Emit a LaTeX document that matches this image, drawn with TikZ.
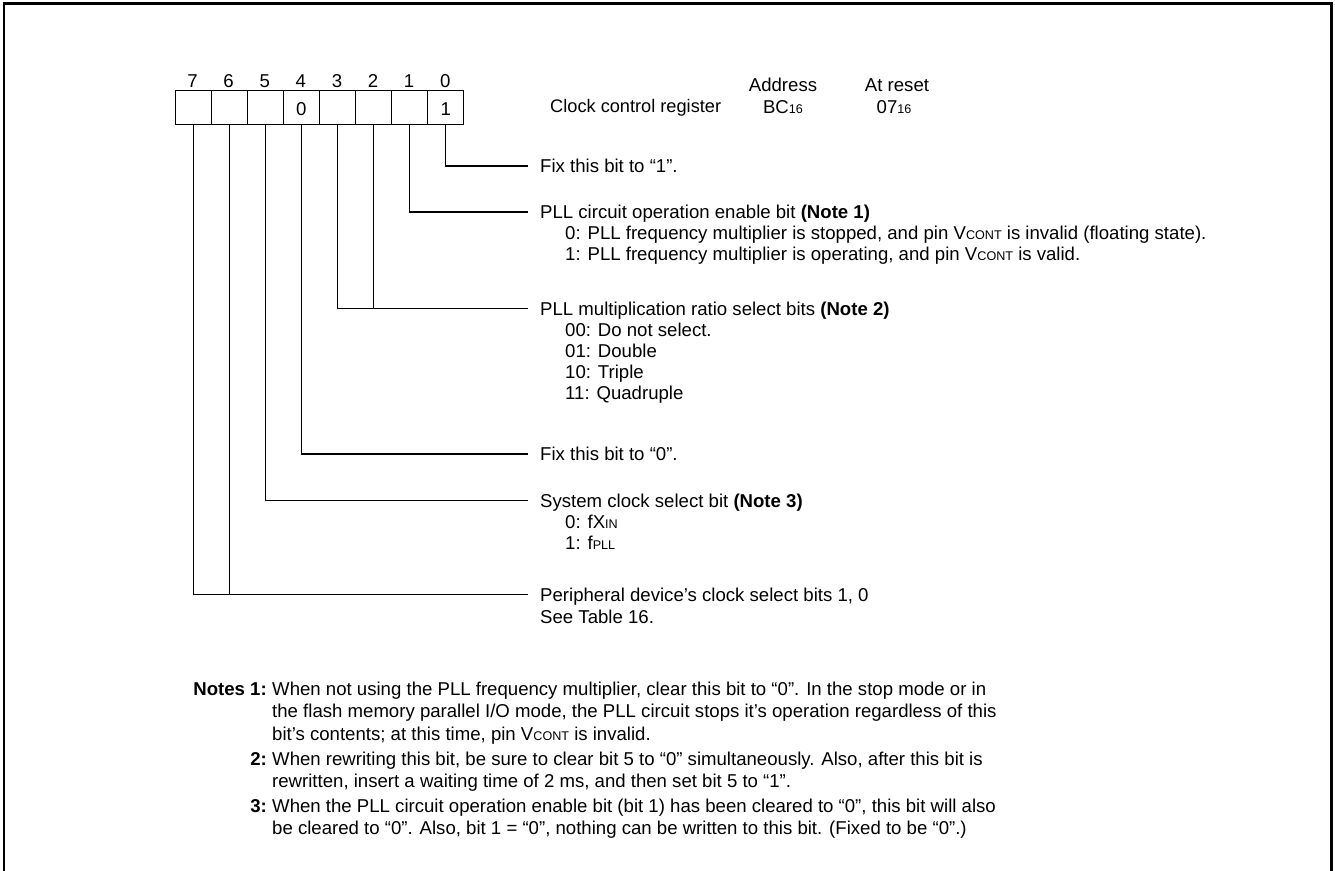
\documentclass[tikz,border=0pt]{standalone}
\usepackage{fontspec}
\setmainfont{Liberation Sans}
\newcommand{\lblfont}{\fontsize{18.6}{22}\selectfont}
\newcommand{\titlefont}{\fontsize{18.2}{21}\selectfont}
\newcommand{\smallcap}[1]{{\fontsize{12.6}{12.6}\selectfont #1}}
\begin{document}
\begin{tikzpicture}[x=1pt,y=-1pt,
  cell/.style={draw,line width=1pt,minimum width=36.1pt,minimum height=34pt,inner sep=0pt,anchor=north west},
  lbl/.style={anchor=west,inner xsep=12pt,inner ysep=0pt,text height=13.3pt,text depth=0pt,font=\lblfont},
  item/.style={anchor=west,inner sep=0pt,text height=13.3pt,text depth=0pt,font=\lblfont},
  txt/.style={inner sep=0pt,text height=13.3pt,text depth=0pt,font=\lblfont},
  nlab/.style={anchor=base east,inner sep=0pt,font=\lblfont\bfseries},
  ntxt/.style={anchor=base west,inner sep=0pt,font=\lblfont},
  conn/.style={line width=1.1pt},
  frame/.style={line width=2.6pt}
]
\useasboundingbox (0,0) rectangle (1335,870);
\draw[frame] (4,880) -- (4,3.3) -- (1331.7,3.3) -- (1331.7,880);

% register cells
\foreach \b in {7,...,0}{
  \node[cell] (c\b) at ({174.5+36.1*(7-\b)},90) {};
  \node[txt] (n\b) at ({174.5+36.1*(7-\b)+18.05},81) {\b};
}
\node[txt] (v4) at (c4.center |- 0,109) {0};
\node[txt] (v0) at (c0.center |- 0,109) {1};

% header
\node[txt,anchor=west,font=\titlefont] (title) at (550,106) {Clock control register};
\node[txt] (addrh) at (783,85) {Address};
\node[txt] (addr) at (783,107) {BC\smallcap{16}};
\node[txt] (rsth) at (897,85) {At reset};
\node[txt] (rst) at (894,107) {07\smallcap{16}};

% bit 0
\node[lbl] (t0) at (528,166) {Fix this bit to “1”.};
% bit 1
\node[lbl] (t1) at (528,212) {PLL circuit operation enable bit \textbf{(Note 1)}};
\node[item] (t1a) at (565,233) {0: PLL frequency multiplier is stopped, and pin V\smallcap{CONT} is invalid (floating state).};
\node[item] (t1b) at (565,254) {1: PLL frequency multiplier is operating, and pin V\smallcap{CONT} is valid.};
% bits 3,2
\node[lbl] (t32) at (528,308.5) {PLL multiplication ratio select bits \textbf{(Note 2)}};
\node[item] (t32a) at (565,330) {00: Do not select.};
\node[item] (t32b) at (565,351) {01: Double};
\node[item] (t32c) at (565,372) {10: Triple};
\node[item] (t32d) at (565,393) {11: Quadruple};
% bit 4
\node[lbl] (t4) at (528,454) {Fix this bit to “0”.};
% bit 5
\node[lbl] (t5) at (528,500.5) {System clock select bit \textbf{(Note 3)}};
\node[item] (t5a) at (565,522) {0: fX\smallcap{IN}};
\node[item] (t5b) at (565,543) {1: f\smallcap{PLL}};
% bits 7,6
\node[lbl] (t76) at (528,594.5) {Peripheral device’s clock select bits 1, 0};
\node[item] (t76a) at (540,617) {See Table 16.};

% connectors
\draw[conn] (c0.south) |- (t0.west);
\draw[conn] (c1.south) |- (t1.west);
\draw[conn] (c3.south) |- (t32.west);
\draw[conn] (c2.south) -- (c2.south |- t32.west);
\draw[conn] (c4.south) |- (t4.west);
\draw[conn] (c5.south) |- (t5.west);
\draw[conn] (c7.south) |- (t76.west);
\draw[conn] (c6.south) -- (c6.south |- t76.west);

% notes
\node[nlab] (l1) at (267,695) {Notes 1:};
\node[ntxt] (a1) at (272,695) {When not using the PLL frequency multiplier, clear this bit to “0”. In the stop mode or in};
\node[ntxt] (a2) at (272,717.5) {the flash memory parallel I/O mode, the PLL circuit stops it’s operation regardless of this};
\node[ntxt] (a3) at (272,740) {bit’s contents; at this time, pin V\smallcap{CONT} is invalid.};
\node[nlab] (l2) at (267,765) {2:};
\node[ntxt] (b1) at (272,765) {When rewriting this bit, be sure to clear bit 5 to “0” simultaneously. Also, after this bit is};
\node[ntxt] (b2) at (272,787.5) {rewritten, insert a waiting time of 2 ms, and then set bit 5 to “1”.};
\node[nlab] (l3) at (267,812) {3:};
\node[ntxt] (d1) at (272,812) {When the PLL circuit operation enable bit (bit 1) has been cleared to “0”, this bit will also};
\node[ntxt] (d2) at (272,834.5) {be cleared to “0”. Also, bit 1 = “0”, nothing can be written to this bit. (Fixed to be “0”.)};
\end{tikzpicture}
\end{document}
